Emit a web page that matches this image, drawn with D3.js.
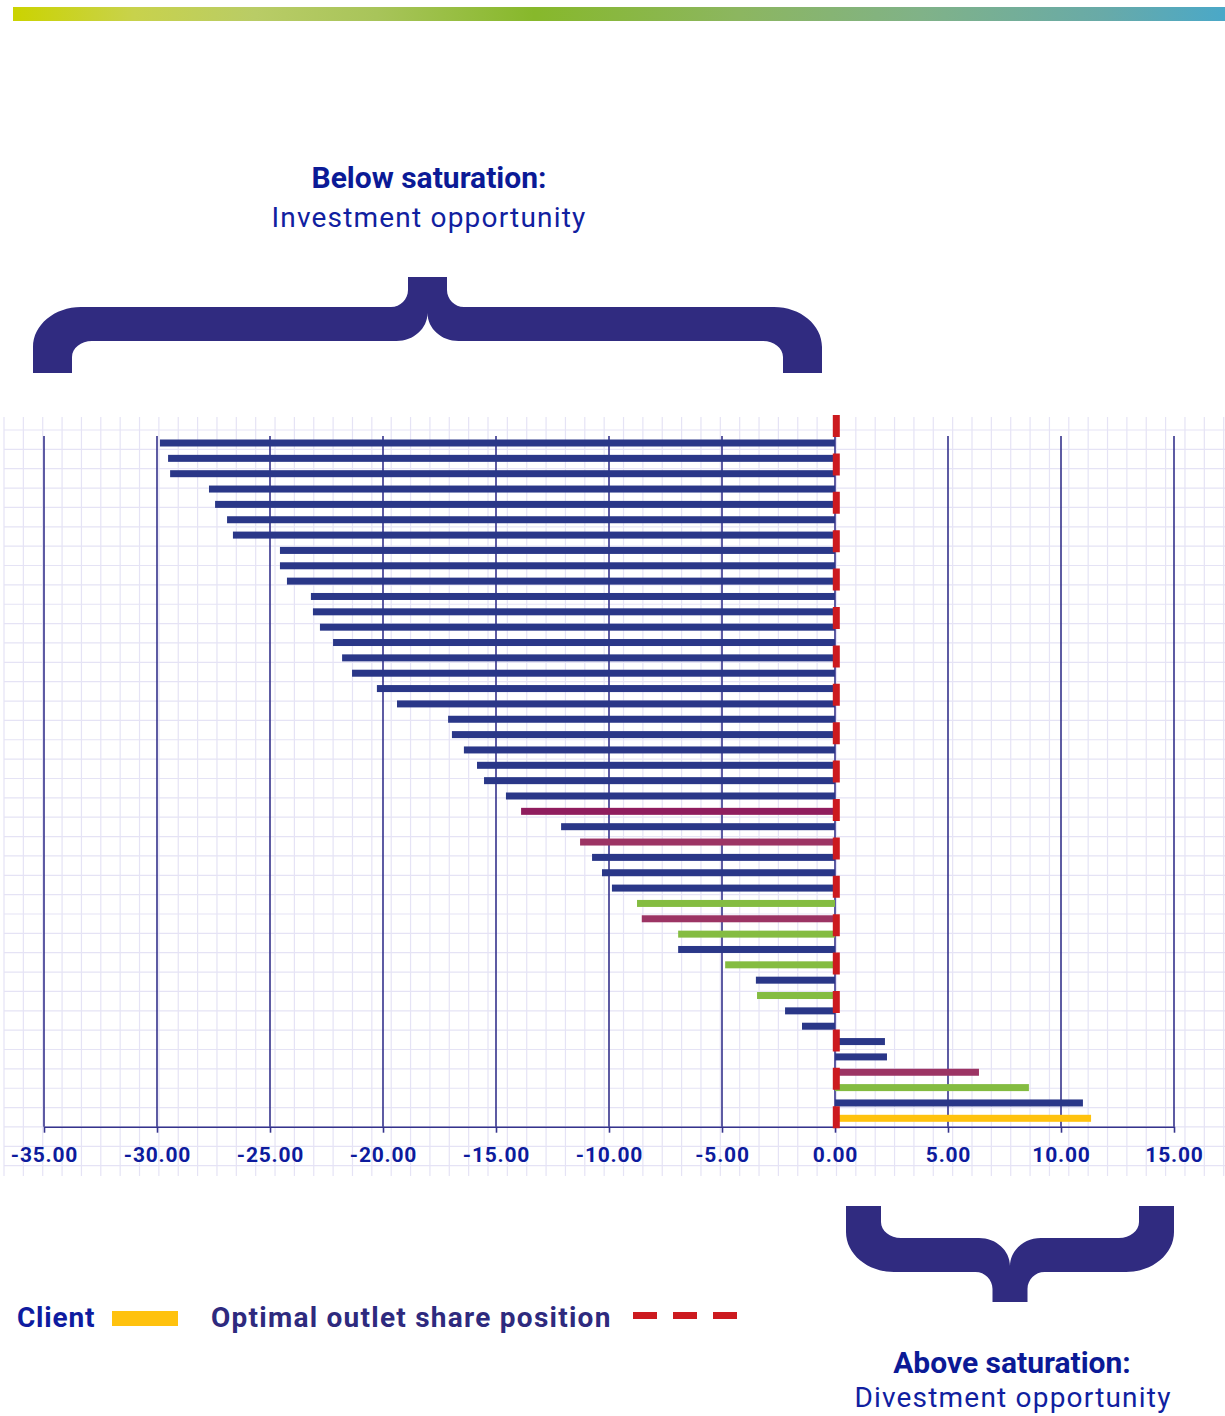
<!DOCTYPE html>
<html>
<head>
<meta charset="utf-8">
<script src="https://cdn.jsdelivr.net/npm/d3@7"></script>
<style>
  body { margin: 0; background: #fff; }
  svg { display: block; font-family: Roboto, "Noto Sans", sans-serif; }
</style>
</head>
<body>
<div id="chart"></div>
<script>
// Chart values (one bar per outlet, top to bottom)
const outlets = d3.range(1, 46).map(i => 'Outlet ' + i);
const values = [
  -29.87, -29.51, -29.42, -27.70, -27.43, -26.90, -26.64, -24.56, -24.56, -24.25,
  -23.19, -23.10, -22.79, -22.21, -21.81, -21.37, -20.27, -19.38, -17.12, -16.95,
  -16.42, -15.84, -15.53, -14.56, -13.89, -12.12, -11.28, -10.75, -10.31, -9.87,
  -8.76, -8.55, -6.94, -6.94, -4.86, -3.50, -3.45, -2.21, -1.46, 2.21,
  2.30, 6.37, 8.58, 10.97, 11.33
];
const groups = [
  'navy', 'navy', 'navy', 'navy', 'navy', 'navy', 'navy', 'navy', 'navy', 'navy',
  'navy', 'navy', 'navy', 'navy', 'navy', 'navy', 'navy', 'navy', 'navy', 'navy',
  'navy', 'navy', 'navy', 'navy', 'plum', 'navy', 'rose', 'navy', 'navy', 'navy',
  'green', 'rose', 'green', 'navy', 'green', 'navy', 'green', 'navy', 'navy', 'navy',
  'navy', 'rose', 'green', 'navy', 'client'
];
const tickValues = [-35, -30, -25, -20, -15, -10, -5, 0, 5, 10, 15];
const optimalPosition = 0;

const colors = {
  navy: '#2a3788', plum: '#901d5e', rose: '#9c3464',
  green: '#84bc41', client: '#ffc20e'
};

const width = 1225, height = 1416;
const svg = d3.select('#chart').append('svg')
  .attr('width', width).attr('height', height);

// Top gradient band
const grad = svg.append('defs').append('linearGradient').attr('id', 'topband');
[[0, '#cbd300'], [0.1, '#c8d24c'], [0.2, '#b9cc66'], [0.3, '#a8c45a'], [0.43, '#87b82b'],
 [0.6, '#8cb660'], [0.75, '#80b288'], [0.9, '#68aaa8'], [1, '#4aa8c8']]
  .forEach(([o, c]) => grad.append('stop').attr('offset', o).attr('stop-color', c));
svg.append('rect').attr('x', 13).attr('y', 7).attr('width', width - 13).attr('height', 14)
  .attr('fill', 'url(#topband)');

// Scales
const x = d3.scaleLinear().domain([-35, 15]).range([44, 1174]);
const y = d3.scalePoint().domain(outlets).range([443, 1118.3]);
const axisY = 1126.7, plotTop = 436;

// Graph-paper background
const cell = 19.36;
const paper = svg.append('g').attr('stroke', '#e5e3f5').attr('stroke-width', 1.2);
paper.selectAll('line.v').data(d3.range(4, width + 1, cell)).join('line')
  .attr('x1', d => d).attr('x2', d => d).attr('y1', 417).attr('y2', 1176);
paper.selectAll('line.h').data(d3.range(430, 1177, cell)).join('line')
  .attr('x1', 4).attr('x2', width).attr('y1', d => d).attr('y2', d => d);

// Major vertical lines
svg.append('g').selectAll('line').data(tickValues).join('line')
  .attr('x1', d => x(d)).attr('x2', d => x(d))
  .attr('y1', plotTop).attr('y2', axisY)
  .attr('stroke', '#35338c').attr('stroke-width', 1.6);

// Bars
svg.append('g').selectAll('rect').data(values).join('rect')
  .attr('x', d => Math.min(x(d), x(0)))
  .attr('width', d => Math.abs(x(d) - x(0)))
  .attr('y', (d, i) => y(outlets[i]) - 3.5)
  .attr('height', 7)
  .attr('fill', (d, i) => colors[groups[i]]);

// X axis
const axis = svg.append('g').attr('transform', `translate(0,${axisY})`)
  .call(d3.axisBottom(x).tickValues(tickValues).tickSize(6).tickSizeOuter(0)
    .tickFormat(d => d.toFixed(2)));
axis.select('.domain').attr('stroke', '#35338c').attr('stroke-width', 1.6);
axis.selectAll('.tick line').attr('stroke', '#35338c').attr('stroke-width', 1.6);
axis.selectAll('.tick text')
  .attr('y', 35.5).attr('dy', null)
  .attr('fill', '#0d1b9d').attr('font-size', 21).attr('font-weight', 700)
  .attr('letter-spacing', 0.8)
  .attr('font-family', 'Roboto, sans-serif');

// Optimal outlet share position (dashed red line)
svg.append('line')
  .attr('x1', x(optimalPosition) + 1.3).attr('x2', x(optimalPosition) + 1.3)
  .attr('y1', 415).attr('y2', 1129)
  .attr('stroke', '#cc1a1f').attr('stroke-width', 7)
  .attr('stroke-dasharray', '22 16.4');

// Curly braces
function bracePath(x0, x1, yArm, dir, aw, sw) {
  const xc = (x0 + x1) / 2, s = sw / 2;
  const P = (px, v) => `${px},${yArm + dir * v}`;
  return [
    'M', P(x0, 0), 'L', P(x0, 26),
    'C', P(x0, 48.1), P(x0 + 21.5, 66), P(x0 + 48, 66),
    'L', P(xc - s - 17, 66),
    'C', P(xc - s - 7.6, 66), P(xc - s, 73.6), P(xc - s, 83),
    'L', P(xc - s, 96), 'L', P(xc + s, 96), 'L', P(xc + s, 83),
    'C', P(xc + s, 73.6), P(xc + s + 7.6, 66), P(xc + s + 17, 66),
    'L', P(x1 - 48, 66),
    'C', P(x1 - 21.5, 66), P(x1, 48.1), P(x1, 26),
    'L', P(x1, 0), 'L', P(x1 - aw, 0), 'L', P(x1 - aw, 16),
    'C', P(x1 - aw, 24.8), P(x1 - aw - 9, 32), P(x1 - aw - 20, 32),
    'L', P(xc + 31, 32),
    'C', P(xc + 13.9, 32), P(xc, 44.5), P(xc, 60),
    'C', P(xc, 44.5), P(xc - 13.9, 32), P(xc - 31, 32),
    'L', P(x0 + aw + 20, 32),
    'C', P(x0 + aw + 9, 32), P(x0 + aw, 24.8), P(x0 + aw, 16),
    'L', P(x0 + aw, 0), 'Z'
  ].join(' ');
}
svg.append('path').attr('d', bracePath(33, 822, 373, -1, 39, 39)).attr('fill', '#302b80');
svg.append('path').attr('d', bracePath(846, 1174, 1206, 1, 35, 35)).attr('fill', '#302b80');

// Annotations
const note = (tx, ty, text, bold, fill) => svg.append('text')
  .attr('x', tx).attr('y', ty).attr('text-anchor', 'middle')
  .attr('font-size', bold ? 30 : 28).attr('font-weight', bold ? 700 : 400)
  .attr('letter-spacing', bold ? 0 : 1.2)
  .attr('fill', fill).text(text);
note(429, 188, 'Below saturation:', true, '#0b1a96');
note(429, 227, 'Investment opportunity', false, '#1020a0');
note(1012, 1373, 'Above saturation:', true, '#0b1a96');
note(1013, 1407, 'Divestment opportunity', false, '#1020a0');

// Legend
const legend = svg.append('g').attr('font-size', 28).attr('font-weight', 700);
legend.append('text').attr('x', 17).attr('y', 1327).attr('fill', '#0e1ba0')
  .attr('letter-spacing', 0.8).text('Client');
legend.append('rect').attr('x', 112).attr('y', 1311).attr('width', 66).attr('height', 15)
  .attr('fill', colors.client);
legend.append('text').attr('x', 211).attr('y', 1327).attr('fill', '#2e2a7e')
  .attr('letter-spacing', 1.25).text('Optimal outlet share position');
legend.append('line').attr('x1', 633).attr('x2', 737).attr('y1', 1315.5).attr('y2', 1315.5)
  .attr('stroke', '#cc1a1f').attr('stroke-width', 7).attr('stroke-dasharray', '24 16');
</script>
</body>
</html>
